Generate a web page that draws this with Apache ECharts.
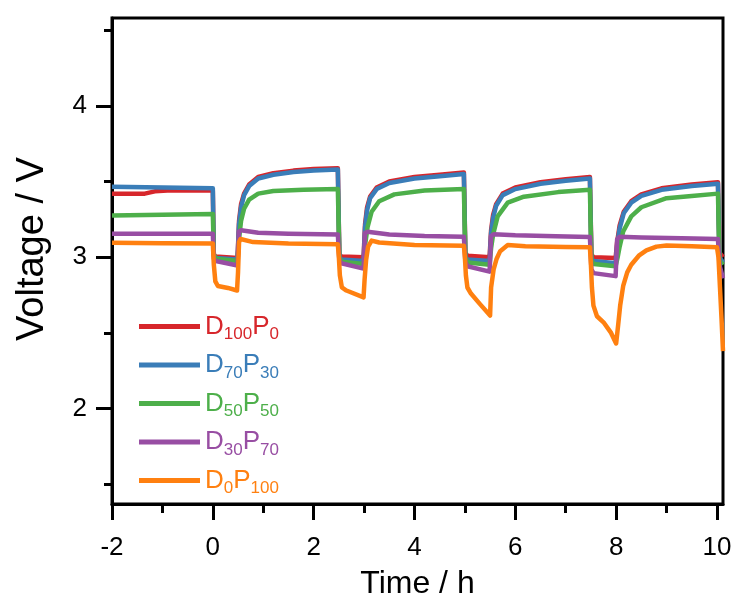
<!DOCTYPE html>
<html>
<head>
<meta charset="utf-8">
<script src="https://cdn.jsdelivr.net/npm/echarts@6/dist/echarts.min.js"></script>
<style>
html,body{margin:0;padding:0;background:#fff;}
#chart{width:738px;height:605px;}
</style>
</head>
<body>
<div id="chart"></div>
<script>
// ---- data ----
const seriesNames = ['D100P0', 'D70P30', 'D50P50', 'D30P70', 'D0P100'];
const legendParts = [['D', '100', 'P', '0'], ['D', '70', 'P', '30'], ['D', '50', 'P', '50'], ['D', '30', 'P', '70'], ['D', '0', 'P', '100']];
const colors = ['#d7262b', '#3a7db8', '#4daf4a', '#984ea3', '#ff8010'];

const xTicks = [-2, 0, 2, 4, 6, 8, 10];
const xMinorTicks = [-1, 1, 3, 5, 7, 9];
const yTicks = [2, 3, 4];
const yMinorTicks = [1.5, 2.5, 3.5, 4.5];

const redT = [-2, -1.35, -1.15, -0.9, 0, 0.02, 0.05, 0.49, 0.52, 0.56, 0.62, 0.72, 0.9, 1.2, 1.6, 2.0, 2.48, 2.51, 2.55, 2.99, 3.02, 3.06, 3.12, 3.25, 3.5, 4.0, 4.5, 4.98, 5.01, 5.05, 5.49, 5.52, 5.56, 5.62, 5.75, 6.0, 6.5, 7.0, 7.48, 7.51, 7.55, 7.99, 8.02, 8.07, 8.15, 8.3, 8.5, 8.9, 9.5, 10.02, 10.05, 10.12];
const redV = [3.42, 3.42, 3.435, 3.44, 3.44, 3.02, 3.005, 2.995, 3.24, 3.35, 3.42, 3.48, 3.53, 3.555, 3.572, 3.582, 3.587, 3.02, 3.005, 3.0, 3.22, 3.33, 3.40, 3.46, 3.50, 3.53, 3.545, 3.56, 3.03, 3.01, 3.0, 3.18, 3.28, 3.35, 3.42, 3.46, 3.495, 3.515, 3.53, 3.02, 3.0, 2.995, 3.10, 3.21, 3.30, 3.37, 3.415, 3.455, 3.48, 3.495, 3.03, 3.0];

const blueT = [-2, -1, 0, 0.02, 0.05, 0.49, 0.52, 0.56, 0.62, 0.72, 0.9, 1.2, 1.6, 2.0, 2.48, 2.51, 2.55, 2.99, 3.02, 3.06, 3.12, 3.25, 3.5, 4.0, 4.5, 4.98, 5.01, 5.05, 5.49, 5.52, 5.56, 5.62, 5.75, 6.0, 6.5, 7.0, 7.48, 7.51, 7.55, 7.99, 8.02, 8.07, 8.15, 8.3, 8.5, 8.9, 9.5, 10.02, 10.05, 10.12];
const blueV = [3.465, 3.46, 3.455, 3.01, 2.995, 2.985, 3.22, 3.33, 3.41, 3.47, 3.52, 3.545, 3.563, 3.573, 3.58, 3.0, 2.985, 2.975, 3.20, 3.31, 3.39, 3.45, 3.49, 3.52, 3.535, 3.55, 3.0, 2.985, 2.975, 3.16, 3.26, 3.34, 3.41, 3.45, 3.485, 3.505, 3.52, 2.99, 2.975, 2.96, 3.08, 3.19, 3.29, 3.36, 3.405, 3.445, 3.47, 3.485, 3.0, 2.965];

const greenT = [-2, -1, 0, 0.02, 0.06, 0.49, 0.52, 0.56, 0.62, 0.72, 0.9, 1.2, 1.8, 2.48, 2.51, 2.56, 2.99, 3.02, 3.07, 3.15, 3.3, 3.6, 4.2, 4.98, 5.01, 5.06, 5.49, 5.52, 5.56, 5.65, 5.85, 6.17, 6.85, 7.48, 7.51, 7.56, 7.99, 8.03, 8.07, 8.14, 8.3, 8.5, 9.0, 9.5, 10.02, 10.05, 10.12];
const greenV = [3.275, 3.28, 3.285, 3.02, 2.99, 2.975, 3.12, 3.24, 3.32, 3.38, 3.42, 3.437, 3.446, 3.45, 3.0, 2.97, 2.955, 3.08, 3.20, 3.30, 3.37, 3.415, 3.44, 3.45, 3.0, 2.965, 2.95, 3.06, 3.15, 3.27, 3.36, 3.40, 3.43, 3.445, 2.98, 2.955, 2.94, 3.0, 3.07, 3.17, 3.27, 3.33, 3.39, 3.405, 3.42, 2.98, 2.95];

const purpleT = [-2, 0, 0.02, 0.06, 0.49, 0.52, 0.56, 0.9, 1.5, 2.48, 2.51, 2.55, 2.99, 3.02, 3.07, 3.5, 4.2, 4.98, 5.01, 5.05, 5.49, 5.52, 5.57, 6.0, 6.8, 7.48, 7.51, 7.55, 7.99, 8.02, 8.07, 8.5, 9.3, 10.02, 10.05, 10.12];
const purpleV = [3.155, 3.155, 2.99, 2.975, 2.945, 3.17, 3.178, 3.162, 3.155, 3.15, 2.98, 2.96, 2.925, 3.16, 3.168, 3.15, 3.14, 3.135, 2.97, 2.94, 2.905, 3.14, 3.152, 3.145, 3.138, 3.133, 2.92, 2.895, 2.875, 3.12, 3.135, 3.13, 3.125, 3.12, 2.95, 2.86];

const orangeT = [-2, -1, 0, 0.02, 0.05, 0.1, 0.3, 0.48, 0.5, 0.52, 0.55, 0.8, 1.5, 2.48, 2.5, 2.52, 2.56, 2.65, 2.99, 3.01, 3.04, 3.08, 3.15, 3.3, 4.0, 4.98, 5.0, 5.02, 5.05, 5.12, 5.3, 5.5, 5.52, 5.57, 5.63, 5.7, 5.85, 6.2, 7.0, 7.48, 7.5, 7.52, 7.55, 7.62, 7.75, 7.9, 8.0, 8.04, 8.08, 8.14, 8.22, 8.3, 8.45, 8.6, 8.8, 9.0, 9.5, 10.0, 10.03, 10.06, 10.09, 10.12];
const orangeV = [3.095, 3.093, 3.09, 2.95, 2.84, 2.81, 2.797, 2.78, 2.9, 3.10, 3.12, 3.10, 3.09, 3.085, 3.0, 2.88, 2.80, 2.78, 2.735, 2.85, 2.98, 3.07, 3.11, 3.097, 3.08, 3.075, 3.0, 2.88, 2.80, 2.76, 2.69, 2.615, 2.80, 2.92, 2.99, 3.04, 3.08, 3.072, 3.068, 3.066, 2.95, 2.80, 2.68, 2.61, 2.57, 2.50, 2.43, 2.55, 2.68, 2.81, 2.90, 2.95, 3.01, 3.045, 3.07, 3.078, 3.072, 3.066, 3.0, 2.8, 2.6, 2.38];

const seriesT = [redT, blueT, greenT, purpleT, orangeT];
const seriesV = [redV, blueV, greenV, purpleV, orangeV];

// ---- chart ----
const FONT = "'Liberation Sans', Arial, sans-serif";
const GRID = { left: 112, right: 15, top: 18, bottom: 100 };
const W = 738, H = 605;
const gridW = W - GRID.left - GRID.right;
const gridH = H - GRID.top - GRID.bottom;
const X_MIN = -2, X_MAX = 10.12, Y_MIN = 1.37, Y_MAX = 4.58;

const rich = {};
colors.forEach((c, i) => {
  rich['m' + i] = { fontSize: 26, lineHeight: 26, color: c, fontFamily: FONT };
  rich['s' + i] = { fontSize: 17, lineHeight: 17, color: c, fontFamily: FONT, padding: [16, 0, 0, 0] };
});

const chart = echarts.init(document.getElementById('chart'), null, { renderer: 'canvas' });
chart.setOption({
  backgroundColor: '#fff',
  animation: false,
  color: colors,
  textStyle: { fontFamily: FONT },
  grid: { left: GRID.left, right: GRID.right, top: GRID.top, bottom: GRID.bottom, show: true, borderColor: '#000', borderWidth: 3, backgroundColor: 'transparent' },
  legend: {
    orient: 'vertical', left: 134, top: 305,
    itemWidth: 61, itemHeight: 5, itemGap: 5.5, icon: 'rect',
    data: seriesNames,
    formatter: function (name) {
      const i = seriesNames.indexOf(name);
      const p = legendParts[i];
      return '{m' + i + '|' + p[0] + '}{s' + i + '|' + p[1] + '}{m' + i + '|' + p[2] + '}{s' + i + '|' + p[3] + '}';
    },
    textStyle: { rich: rich, fontFamily: FONT }
  },
  xAxis: [{
    type: 'value', min: X_MIN, max: X_MAX, position: 'bottom',
    name: 'Time / h', nameLocation: 'middle', nameGap: 64,
    nameTextStyle: { fontSize: 32, color: '#000', fontFamily: FONT },
    axisLine: { show: true, onZero: false, lineStyle: { color: '#000', width: 3 } },
    axisTick: { show: true, customValues: xTicks, length: 16, lineStyle: { color: '#000', width: 3 } },
    axisLabel: { show: true, customValues: xTicks, fontSize: 26, color: '#000', margin: 31, fontFamily: FONT },
    splitLine: { show: false }
  }, {
    type: 'value', min: X_MIN, max: X_MAX, position: 'top', offset: -gridH,
    axisLine: { show: false, onZero: false },
    axisTick: { show: true, inside: true, customValues: xMinorTicks, length: 8, lineStyle: { color: '#000', width: 3 } },
    axisLabel: { show: false },
    splitLine: { show: false }
  }],
  yAxis: [{
    type: 'value', min: Y_MIN, max: Y_MAX, position: 'left',
    name: 'Voltage / V', nameLocation: 'middle', nameGap: 60,
    nameTextStyle: { fontSize: 38, color: '#000', fontFamily: FONT, padding: [0, 0, 0, 24] },
    axisLine: { show: true, onZero: false, lineStyle: { color: '#000', width: 3 } },
    axisTick: { show: true, customValues: yTicks, length: 16, lineStyle: { color: '#000', width: 3 } },
    axisLabel: { show: true, customValues: yTicks, fontSize: 26, color: '#000', margin: 25, fontFamily: FONT },
    splitLine: { show: false }
  }, {
    type: 'value', min: Y_MIN, max: Y_MAX, position: 'right', offset: -gridW,
    axisLine: { show: false, onZero: false },
    axisTick: { show: true, inside: true, customValues: yMinorTicks, length: 8, lineStyle: { color: '#000', width: 3 } },
    axisLabel: { show: false },
    splitLine: { show: false }
  }],
  series: seriesNames.map((name, i) => ({
    name: name, type: 'line', xAxisIndex: 0, yAxisIndex: 0,
    showSymbol: false, symbol: 'none', clip: true,
    lineStyle: { width: 4.5, color: colors[i], join: 'round' },
    itemStyle: { color: colors[i] },
    data: seriesT[i].map((t, k) => [t, seriesV[i][k]])
  }))
});
</script>
</body>
</html>
